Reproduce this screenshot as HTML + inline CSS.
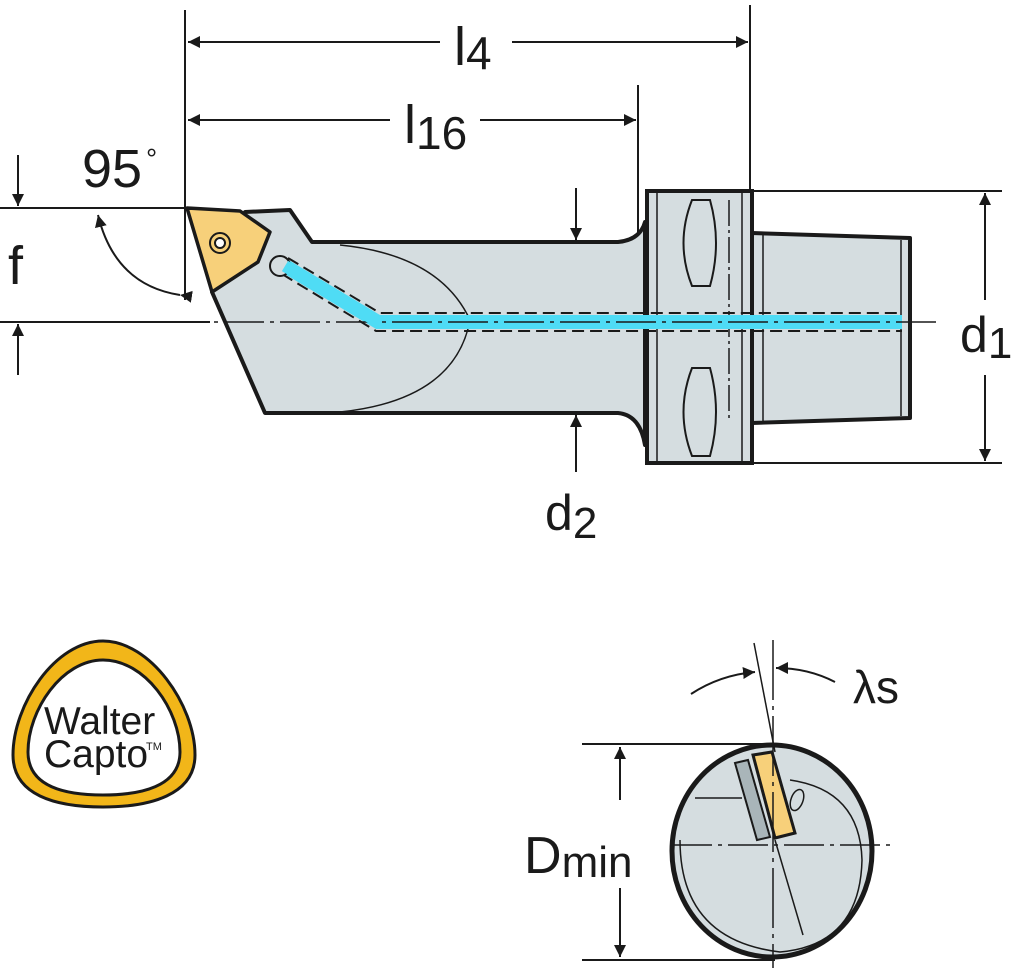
<!DOCTYPE html>
<html><head><meta charset="utf-8"><style>
html,body{margin:0;padding:0;background:#fff}
svg{display:block}
text{font-family:"Liberation Sans",sans-serif;fill:#1a1a1a}
</style></head><body>
<svg width="1024" height="968" viewBox="0 0 1024 968" xmlns="http://www.w3.org/2000/svg">
<defs>
<marker id="a" markerWidth="12" markerHeight="20" refX="14" refY="10" orient="auto" markerUnits="userSpaceOnUse" viewBox="0 0 14 20">
<path d="M0,3 L14,10 L0,17 Z" fill="#1a1a1a"/></marker>
</defs>
<g stroke="#1a1a1a" fill="none" stroke-width="2">
<line x1="185" y1="10" x2="185" y2="300"/>
<line x1="750" y1="5" x2="750" y2="192"/>
<line x1="638" y1="85" x2="638" y2="235"/>
<line x1="0" y1="208" x2="185" y2="208"/>
<line x1="0" y1="322" x2="210" y2="322"/>
<line x1="752" y1="191" x2="1002" y2="191"/>
<line x1="752" y1="463" x2="1002" y2="463"/>
<line x1="440" y1="42" x2="188" y2="42" marker-end="url(#a)"/>
<line x1="512" y1="42" x2="748" y2="42" marker-end="url(#a)"/>
<line x1="390" y1="120" x2="188" y2="120" marker-end="url(#a)"/>
<line x1="480" y1="120" x2="636" y2="120" marker-end="url(#a)"/>
<line x1="985" y1="300" x2="985" y2="193" marker-end="url(#a)"/>
<line x1="985" y1="375" x2="985" y2="461" marker-end="url(#a)"/>
<line x1="576" y1="188" x2="576" y2="240" marker-end="url(#a)"/>
<line x1="576" y1="472" x2="576" y2="415" marker-end="url(#a)"/>
<line x1="18" y1="155" x2="18" y2="206" marker-end="url(#a)"/>
<line x1="18" y1="375" x2="18" y2="324" marker-end="url(#a)"/>
<path d="M180,295 Q115,285 98,215" marker-start="url(#a)" marker-end="url(#a)"/>
</g>
<path d="M245,212 L290,210 L312,242 L618,242 Q640,240 645,222 L645,445 Q640,415 618,413 L265,413 L212,292 Z" fill="#d5dde0" stroke="#1a1a1a" stroke-width="4" stroke-linejoin="round"/>
<path d="M340,245 Q440,255 470,320 Q455,400 340,412" fill="none" stroke="#1a1a1a" stroke-width="1.5"/>
<rect x="647" y="191" width="105" height="272" fill="#d5dde0" stroke="#1a1a1a" stroke-width="4"/>
<line x1="657" y1="193" x2="657" y2="461" stroke="#1a1a1a" stroke-width="1.5"/>
<line x1="742" y1="193" x2="742" y2="461" stroke="#1a1a1a" stroke-width="1.5"/>
<path d="M692,200 Q675,243 692,286 L710,286 Q722,243 710,200 Z" fill="none" stroke="#1a1a1a" stroke-width="2"/>
<path d="M692,368 Q675,412 692,456 L710,456 Q722,412 710,368 Z" fill="none" stroke="#1a1a1a" stroke-width="2"/>
<line x1="729" y1="200" x2="729" y2="420" stroke="#1a1a1a" stroke-width="1.5" stroke-dasharray="26,4,3,4"/>
<path d="M752,233 L910,238 L910,418 L752,423 Z" fill="#d5dde0" stroke="#1a1a1a" stroke-width="4" stroke-linejoin="round"/>
<line x1="763" y1="235" x2="763" y2="421" stroke="#1a1a1a" stroke-width="1.5"/>
<line x1="901" y1="240" x2="901" y2="416" stroke="#1a1a1a" stroke-width="1.5"/>
<path d="M285,266 L378,322 L902,322" fill="none" stroke="#4fdcf5" stroke-width="14"/>
<path d="M288,258 L380,313 L902,313 M282,274 L376,331 L902,331" fill="none" stroke="#1a1a1a" stroke-width="2" stroke-dasharray="12,6"/>
<line x1="0" y1="322" x2="940" y2="322" stroke="#1a1a1a" stroke-width="1.5" stroke-dasharray="40,6,4,6"/>
<path d="M187,208 L240,211 L270,232 L258,262 L212,292 Z" fill="#f7d07a" stroke="#1a1a1a" stroke-width="3.5" stroke-linejoin="round"/>
<circle cx="220" cy="243" r="10" fill="none" stroke="#1a1a1a" stroke-width="2"/>
<circle cx="220" cy="243" r="5" fill="#fff" stroke="#1a1a1a" stroke-width="2"/>
<circle cx="280" cy="266" r="10" fill="#d5dde0" stroke="#1a1a1a" stroke-width="2"/>
<path d="M285,266 L378,322" stroke="#4fdcf5" stroke-width="12"/>
<text x="454" y="65" font-size="54">l<tspan font-size="46" dy="4">4</tspan></text>
<text x="404" y="143" font-size="54">l<tspan font-size="46" dy="6">16</tspan></text>
<text x="82" y="187" font-size="54">95</text>
<text x="146" y="168" font-size="28">°</text>
<text x="8" y="284" font-size="54">f</text>
<text x="960" y="352" font-size="50">d<tspan font-size="44" dy="6">1</tspan></text>
<text x="545" y="530" font-size="50">d<tspan font-size="44" dy="8">2</tspan></text>
<text x="853" y="703" font-size="46">λs</text>
<text x="524" y="873" font-size="52">D<tspan font-size="44" dy="4">min</tspan></text>
<path d="M103,641 C150,641 195,705 195,755 C195,795 150,807 103,807 C55,807 13,795 13,755 C13,705 55,641 103,641 Z" fill="#f2b619" stroke="#1a1a1a" stroke-width="3"/>
<path d="M103,660 C145,660 180,710 180,752 C180,787 140,795 103,795 C65,795 28,787 28,752 C28,710 62,660 103,660 Z" fill="#fff" stroke="#1a1a1a" stroke-width="3"/>
<text x="44" y="734" font-size="39">Walter</text>
<text x="44" y="767" font-size="39">Capto</text>
<text x="146" y="750" font-size="11">TM</text>
<g stroke="#1a1a1a" fill="none" stroke-width="2">
<line x1="582" y1="744" x2="775" y2="744"/>
<line x1="582" y1="960" x2="775" y2="960"/>
<line x1="620" y1="800" x2="620" y2="747" marker-end="url(#a)"/>
<line x1="620" y1="888" x2="620" y2="957" marker-end="url(#a)"/>
</g>
<ellipse cx="772" cy="851" rx="100" ry="106" fill="#d5dde0" stroke="#1a1a1a" stroke-width="5"/>
<path d="M680,840 Q680,940 780,952 Q860,945 862,860 Q860,790 790,780" fill="none" stroke="#1a1a1a" stroke-width="1.5"/>
<line x1="695" y1="798" x2="742" y2="798" stroke="#1a1a1a" stroke-width="1.5"/>
<line x1="775" y1="840" x2="803" y2="935" stroke="#1a1a1a" stroke-width="1.5"/>
<path d="M735,763 L748,760 L770,837 L757,840 Z" fill="#a9b5b9" stroke="#1a1a1a" stroke-width="2"/>
<path d="M753,755 L772,752 L795,833 L775,838 Z" fill="#f7d07a" stroke="#1a1a1a" stroke-width="3"/>
<ellipse cx="797" cy="800" rx="6" ry="11" transform="rotate(20 797 800)" fill="none" stroke="#1a1a1a" stroke-width="1.5"/>
<line x1="773" y1="640" x2="773" y2="968" stroke="#1a1a1a" stroke-width="1.5" stroke-dasharray="60,6,4,6"/>
<line x1="672" y1="845" x2="893" y2="845" stroke="#1a1a1a" stroke-width="1.5" stroke-dasharray="40,6,4,6"/>
<line x1="754" y1="643" x2="775" y2="752" stroke="#1a1a1a" stroke-width="1.5"/>
<line x1="760" y1="780" x2="775" y2="838" stroke="#1a1a1a" stroke-width="1.5"/>
<path d="M691,694 Q720,675 755,672" fill="none" stroke="#1a1a1a" stroke-width="2" marker-end="url(#a)"/>
<path d="M835,682 Q808,668 776,668" fill="none" stroke="#1a1a1a" stroke-width="2" marker-end="url(#a)"/>
</svg>
</body></html>
